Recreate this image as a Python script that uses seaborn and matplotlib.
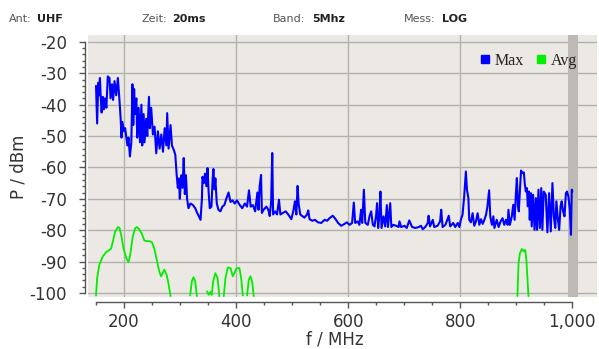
import numpy as np
import pandas as pd
import matplotlib
matplotlib.use("Agg")
import matplotlib.pyplot as plt
import matplotlib.ticker as mticker
from matplotlib.lines import Line2D
import seaborn as sns

# Max-Spektrum (blau)
max_f = [150, 152, 154, 155.5, 157, 158.5, 160, 162, 164, 166, 168.5, 171, 174, 176, 178.5,
         180.5, 183, 186, 189, 192, 194, 195.5, 197, 200, 202, 206, 208, 210.5, 213, 215,
         216.5, 218, 219.5, 222, 223.5, 226, 228.5, 231, 232.5, 235, 236.5, 239.5, 241.5,
         244.5, 246, 248.5, 251.5, 254.5, 257.5, 260.5, 263.5, 266.5, 269.5, 272.5, 275.5,
         277, 279.5, 283, 285.5, 289, 291.5, 294, 296, 298, 299.5, 302, 304.5, 306.5, 308.5,
         310.5, 312.5, 315, 318.5, 323, 327, 330.5, 332, 336.5, 339, 340, 342.5, 344.5, 347,
         349, 351, 353, 356, 358, 359.5, 361.5, 363, 365.5, 368.5, 372, 375.5, 379, 382.5,
         386.5, 390, 393.5, 397.5, 401.5, 406.5, 411, 415.5, 419.5, 423, 426, 430, 434, 438,
         440, 442, 444.5, 446, 449, 454, 457.5, 460, 462.5, 464.5, 466, 469.5, 473, 476.5,
         479, 483.5, 488.5, 493, 498.5, 502, 503.5, 505, 507.5, 509.7, 511.5, 514.5, 518,
         522, 526.5, 528.7, 531, 536, 540.5, 546, 552, 558, 562.5, 566.5, 572.5, 577.5, 582,
         587.5, 593.5, 597.5, 602.5, 607, 610, 612.5, 617, 620, 623, 625, 628, 630.5, 635,
         638, 641, 644, 647, 650, 651.5, 653.5, 656, 657.5, 659.5, 663, 666, 669, 671, 675,
         677, 680.5, 685.5, 690, 691.5, 694.5, 700.5, 704.5, 709, 714, 720, 726, 730, 733,
         737.5, 742, 743.5, 746, 751, 753.5, 759.5, 764, 766, 768.5, 773.5, 779.5, 782,
         787.5, 791, 795.5, 798.5, 801, 804, 807, 810, 812, 814.5, 816, 819, 822, 825, 828,
         831, 834, 837, 840, 843, 846, 848.5, 851.5, 853.5, 856.5, 859, 861, 865, 868.5,
         872, 875.5, 878.5, 881.5, 884.5, 886, 888.5, 892, 894.5, 897, 899, 901, 903, 904.5,
         906.5, 908.5, 911, 913.5, 915, 917, 919, 920.5, 922.5, 924, 926, 927.5, 930, 932.5,
         935, 937, 939.5, 942, 944.5, 946.5, 949, 952.5, 955.5, 958.5, 961.5, 964.5, 967,
         969.5, 971.5, 974, 976.5, 979, 981, 983.5, 986, 988.5, 990.5, 993, 995.5, 997.5,
         999, 1000]
max_p = [-34, -46, -33, -37, -31.5, -38, -42.5, -37.5, -41.5, -38, -41, -31, -31.5, -38, -33.5,
         -38.5, -32.5, -37, -31.5, -39, -44.5, -50.5, -45.5, -48.5, -47.5, -53, -50.5, -56.5, -52, -33.5,
         -46.5, -35, -43, -38, -50.5, -41, -52, -40, -53, -43, -52, -44.5, -50,
         -37.5, -47.5, -41, -49.5, -47, -55.5, -48.5, -54, -49.5, -55, -47.5, -53,
         -42.7, -54, -46.5, -53, -54.5, -56, -62.5, -66.5, -63.5, -70, -62.5, -66.5, -57, -68.5,
         -62.5, -70, -73, -71.5, -72, -73, -74.5, -75, -76.7, -70, -63, -65, -62, -66,
         -60.2, -68, -73, -72.5, -64, -60.5, -67, -63.5, -71.5, -73.5, -74, -72.5, -72, -70,
         -68, -71, -70.5, -71.5, -70.5, -72, -73, -71.5, -72.5, -67.3, -72.5, -72, -74, -68,
         -73.5, -66, -62.4, -74.5, -73.5, -72.5, -73.5, -75.5, -71, -55.4, -75, -74, -75, -70.3,
         -75, -74.5, -74, -75, -76.5, -74, -72.4, -70.8, -75, -65.9, -71.5, -75, -75.5,
         -76, -75, -73.7, -76.5, -77, -76.7, -77.5, -77.7, -76.7, -77, -76.2, -75.4, -76.5, -77.7,
         -78.6, -78, -77.5, -78.3, -77.7, -71.2, -77.7, -77.2, -78.3, -73.5, -77.7, -67.1, -77.7, -78.3,
         -75.6, -74, -78.3, -78.8, -75, -71.4, -79.3, -74.6, -67.7, -79.3, -75.6, -78.8, -72, -79, -71.4,
         -79, -78.3, -78.6, -79, -77.2, -79, -78.6, -79.3, -76.9, -79, -79.3, -79, -78.6, -79.7,
         -79, -77.7, -75.4, -78.8, -76.7, -79, -78.6, -77.2, -73.5, -79, -78.3, -75.4, -78.8,
         -77.7, -79, -77.7, -79, -76.7, -75.1, -69.3, -61.3, -67.1, -69.8, -76.7, -77.5, -74.6, -78.6, -77.2,
         -74.6, -78.3, -76.5, -78, -76.7, -75.1, -72.4, -67.3, -75.6, -78.3, -75.6, -79.3, -76.7, -79,
         -77.2, -76.2, -78.3, -76.7, -78.3, -73.5, -78.3, -75.6, -71.9, -76.7, -69.3, -63.4, -72.4, -74,
         -67.1, -61, -61.8, -61.6, -65, -67.7, -66.6, -72.4, -67.7, -76.7, -68.2, -78.8, -68.7, -79.9,
         -69.8, -79.9, -67.1, -79.3, -66.6, -79.9, -67.7, -68.7, -80.7, -68.2, -80.4, -65, -75.6,
         -79.3, -70.8, -76.2, -79.9, -72.4, -70.8, -74, -75.6, -68.2, -67.7, -69.3, -73.5, -81.5,
         -67.1, -67.7]

# Avg-Spektrum (gruen), Luecken = unterhalb des Bereichs
nan = np.nan
avg_f = [150, 152, 156, 162, 168, 174, 177, 180, 184, 189, 192, 195, 199, 204, 208, 211,
         215.5, 220, 223, 227, 231.5, 236, 239, 245, 250, 254, 259, 263, 266, 269, 272, 276,
         279, 283, nan,
         318, 321, 324, 327, 330, nan,
         348, 351, 354, 356.5, 359, 363, 367, 370, nan,
         378, 381, 385, 390, 394, 397, 401, 406, 409, 412, nan,
         419.6, 422.6, 425.6, 428.6, 431.5, nan,
         902, 904, 906.5, 910, 913, 916, 918, 921.7]
avg_p = [-100.8, -95.3, -91, -88.4, -87, -86.3, -85.8, -83.7, -80.5, -79, -79.3, -81.6, -85.8, -88.9, -90.2, -87.9,
         -82.1, -79.3, -79, -79.7, -81, -83.2, -83.5, -83.5, -83.9, -85.8, -90, -93.2, -94.7, -93.7, -92.6, -94.2,
         -96.8, -101, nan,
         -100.8, -96.3, -95, -96.3, -101, nan,
         -99.5, -100.6, -99.7, -100.6, -96.3, -93.7, -95.3, -101, nan,
         -101, -95.3, -91.9, -92.1, -94.7, -93.7, -92.1, -92.1, -95.3, -100.8, nan,
         -100.8, -95.8, -94.7, -96.3, -101, nan,
         -101, -90.5, -87.3, -86, -86.8, -86.3, -89.5, -101]

x_ticks = [200, 400, 600, 800, 1000]
y_ticks = [-20, -30, -40, -50, -60, -70, -80, -90, -100]
header = [("Ant:", "UHF"), ("Zeit:", "20ms"), ("Band:", "5Mhz"), ("Mess:", "LOG")]
header_x = [(9.3, 36.7), (141.7, 172.3), (273.3, 311.7), (404.3, 441.7)]

sns.set_style("ticks")
plt.rcParams['font.family'] = ['DejaVu Sans']
plt.rcParams['axes.unicode_minus'] = False

W, H = 599, 349
fig = plt.figure(figsize=(W / 100, H / 100), dpi=100)
ax = fig.add_axes([88 / W, 1 - 297 / H, 509 / W, 262 / H])
ax.set_facecolor('#ECE9E4')

df_max = pd.DataFrame({'f': max_f, 'p': max_p})
df_avg = pd.DataFrame({'f': avg_f, 'p': avg_p})
df_avg['seg'] = df_avg['f'].isna().cumsum()
df_avg = df_avg.dropna()

ax.axvspan(992, 1010, color='#BDB9B5', lw=0, zorder=1.5)
sns.lineplot(data=df_avg, x='f', y='p', units='seg', estimator=None, sort=False,
             color='#00EE00', lw=1.3, ax=ax, legend=False, zorder=3)
sns.lineplot(data=df_max, x='f', y='p', estimator=None, sort=False,
             color='#0000FF', lw=1.5, ax=ax, legend=False, zorder=4)

ax.set_xlim(135.7, 1044)
ax.set_ylim(-101.3, -17.8)
ax.set_axisbelow(True)
ax.grid(True, which='major', color='#B3B1AE', lw=1.0)

ax.xaxis.set_major_locator(mticker.FixedLocator(x_ticks))
ax.xaxis.set_minor_locator(mticker.FixedLocator(np.arange(150, 1001, 50)))
ax.yaxis.set_major_locator(mticker.FixedLocator(y_ticks))
ax.yaxis.set_minor_locator(mticker.FixedLocator(np.arange(-100, -19, 2)))
ax.xaxis.set_major_formatter(mticker.FuncFormatter(lambda v, p: f"{v:,.0f}"))
ax.yaxis.set_major_formatter(mticker.FuncFormatter(lambda v, p: f"{v:.0f}"))

for s in ['top', 'right']:
    ax.spines[s].set_visible(False)
ax.spines['left'].set_position(('outward', 2.2))
ax.spines['bottom'].set_position(('outward', 3.6))
ax.spines['left'].set_bounds(-100, -20)
ax.spines['bottom'].set_bounds(150, 1000)
for s in ['left', 'bottom']:
    ax.spines[s].set_color('#555555')
    ax.spines[s].set_linewidth(1.0)

ax.tick_params(which='major', length=4, width=1, color='#555555', labelsize=12,
               labelcolor='#333333')
ax.tick_params(axis='x', which='major', pad=4)
ax.tick_params(axis='y', which='major', pad=9)
ax.tick_params(which='minor', length=2.5, width=1, color='#555555')

ax.set_xlabel('f / MHz', fontsize=12, color='#333333')
ax.set_ylabel('P / dBm', fontsize=12, color='#333333')
ax.xaxis.set_label_coords((335 - 88) / 509, (297 - 330) / 262)
ax.yaxis.set_label_coords((28 - 88) / 509, (297 - 167) / 262)

# Kopfzeile
for (lab, val), (x1, x2) in zip(header, header_x):
    fig.text(x1 / W, 1 - 22.5 / H, lab, fontsize=8, color='#555555', va='baseline')
    fig.text(x2 / W, 1 - 22.5 / H, val, fontsize=8, color='#222222', va='baseline',
             fontweight='bold')

handles = [Line2D([], [], marker='s', ls='none', color='#0000FF', markersize=6),
           Line2D([], [], marker='s', ls='none', color='#00EE00', markersize=6)]
fig.legend(handles, ['Max', 'Avg'], loc='center right', bbox_to_anchor=(585 / W, 1 - 61 / H),
           ncol=2, frameon=False, prop={'family': 'Liberation Serif', 'size': 11.5},
           handletextpad=0.1, columnspacing=0.6, borderpad=0, handlelength=1.0,
           labelcolor='#222222')

fig.savefig('out.png', dpi=100)
